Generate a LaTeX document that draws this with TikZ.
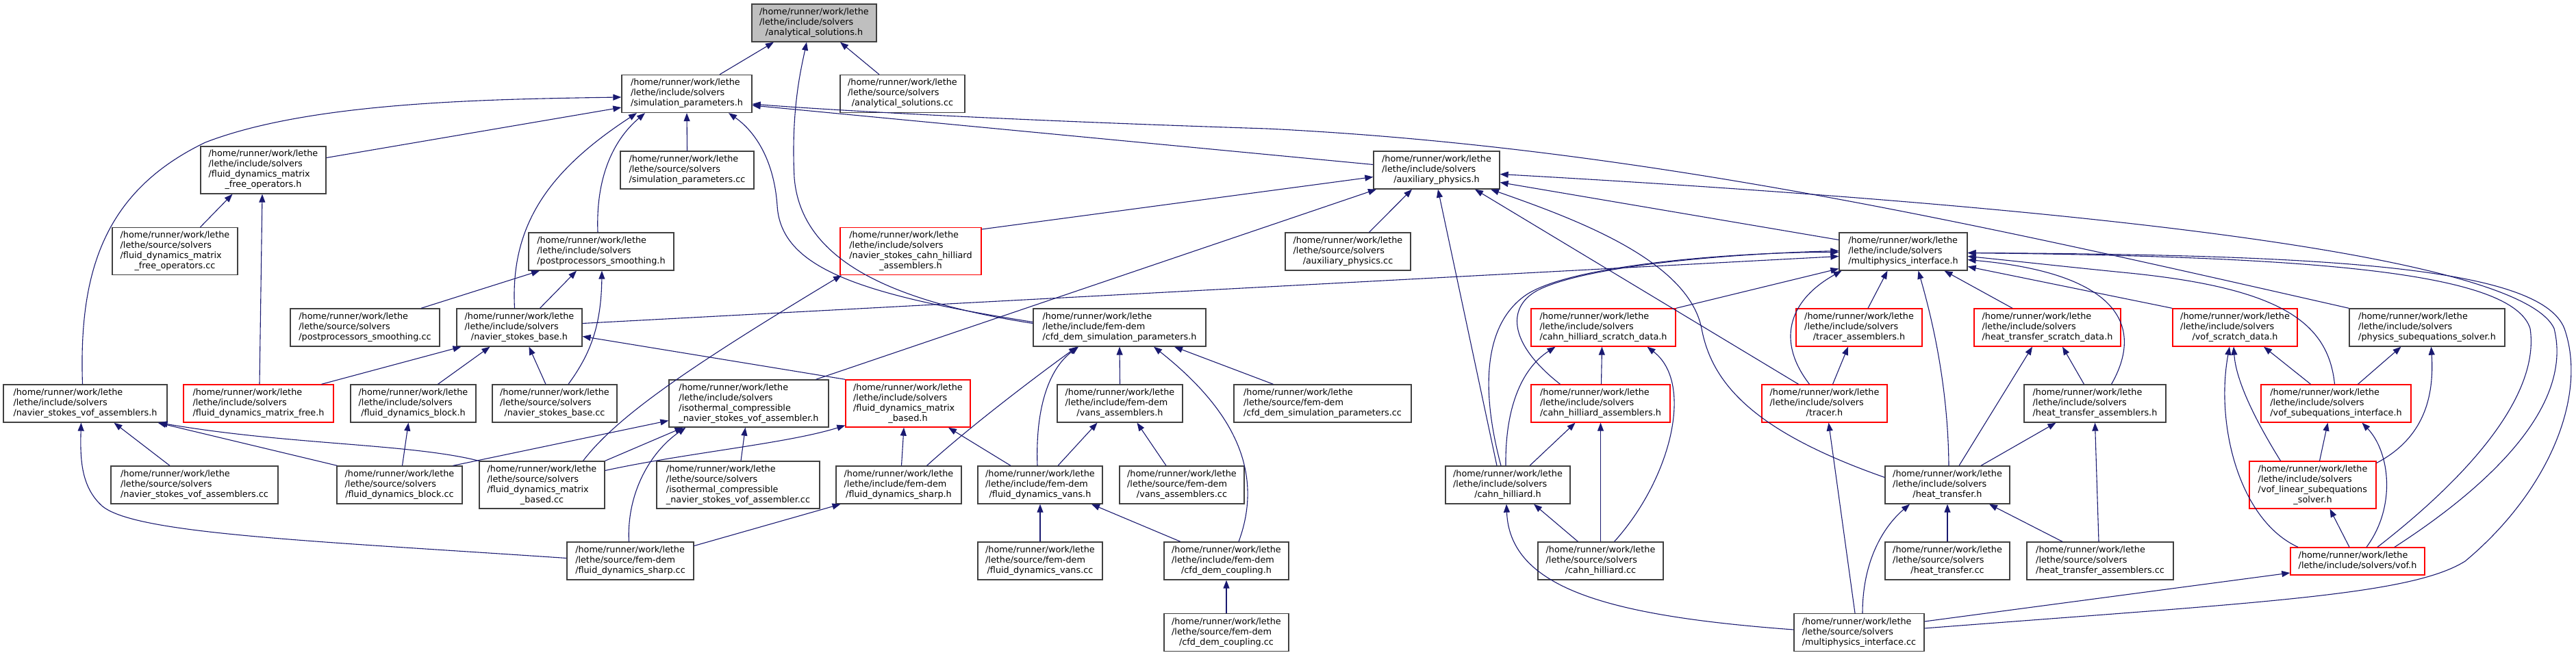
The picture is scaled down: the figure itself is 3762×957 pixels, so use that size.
\documentclass[tikz,border=0pt]{standalone}
\usepackage{fontspec}
\setmainfont{DejaVu Sans}
\usepackage{tikz}
\usetikzlibrary{arrows.meta}
\usepackage{xcolor}
\definecolor{edgeblue}{HTML}{191970}
\definecolor{boxgrey}{HTML}{404040}
\definecolor{rootgrey}{HTML}{BFBFBF}
\definecolor{cutred}{HTML}{FF0000}
\newcommand{\filelab}[2]{\begin{tabular}{@{}l@{}}#1\\\multicolumn{1}{@{}c@{}}{#2}\end{tabular}}

\begin{document}
\begin{tikzpicture}[
  x=1pt, y=-1pt,
  box/.style={rectangle, draw=boxgrey, line width=1.3pt, fill=white, inner sep=0pt,
              minimum height=55pt, font=\fontsize{12.8pt}{15pt}\selectfont},
  tall/.style={minimum height=69pt},
  redbox/.style={box, draw=cutred},
  rootbox/.style={box, fill=rootgrey},
  arr/.style={-{Triangle[length=12pt, width=9pt]}, line width=1.1pt, edgeblue},
]
\useasboundingbox (0,0) rectangle (3762,957);

\node[rootbox, minimum width=182pt] (A) at (1189,33.5)
  {\filelab{/home/runner/work/lethe\\/lethe/include/solvers}{/analytical\_solutions.h}};

\node[box, minimum width=190pt] (SP) at (1003,137)
  {\filelab{/home/runner/work/lethe\\/lethe/include/solvers}{/simulation\_parameters.h}};
\node[box, minimum width=182pt] (ASCC) at (1318,137)
  {\filelab{/home/runner/work/lethe\\/lethe/source/solvers}{/analytical\_solutions.cc}};

\node[box, tall, minimum width=183pt] (FDMFO) at (384.5,248.5)
  {\filelab{/home/runner/work/lethe\\/lethe/include/solvers\\/fluid\_dynamics\_matrix}{\_free\_operators.h}};
\node[box, minimum width=195pt] (SPCC) at (1003.5,248.5)
  {\filelab{/home/runner/work/lethe\\/lethe/source/solvers}{/simulation\_parameters.cc}};
\node[box, minimum width=184pt] (AUX) at (2098,248.5)
  {\filelab{/home/runner/work/lethe\\/lethe/include/solvers}{/auxiliary\_physics.h}};

\node[box, tall, minimum width=183pt] (FDMFOCC) at (255.5,367)
  {\filelab{/home/runner/work/lethe\\/lethe/source/solvers\\/fluid\_dynamics\_matrix}{\_free\_operators.cc}};
\node[box, minimum width=212pt] (PPS) at (878,367.5)
  {\filelab{/home/runner/work/lethe\\/lethe/include/solvers}{/postprocessors\_smoothing.h}};
\node[redbox, tall, minimum width=206pt] (NSCHA) at (1330,367)
  {\filelab{/home/runner/work/lethe\\/lethe/include/solvers\\/navier\_stokes\_cahn\_hilliard}{\_assemblers.h}};
\node[box, minimum width=183pt] (AUXCC) at (1968.5,367.5)
  {\filelab{/home/runner/work/lethe\\/lethe/source/solvers}{/auxiliary\_physics.cc}};
\node[box, minimum width=187pt] (MPI) at (2779.5,367.5)
  {\filelab{/home/runner/work/lethe\\/lethe/include/solvers}{/multiphysics\_interface.h}};

\node[box, minimum width=218pt] (PPSCC) at (533,478.5)
  {\filelab{/home/runner/work/lethe\\/lethe/source/solvers}{/postprocessors\_smoothing.cc}};
\node[box, minimum width=183pt] (NSB) at (758.5,478.5)
  {\filelab{/home/runner/work/lethe\\/lethe/include/solvers}{/navier\_stokes\_base.h}};
\node[box, minimum width=252pt] (CFDSP) at (1635,478.5)
  {\filelab{/home/runner/work/lethe\\/lethe/include/fem-dem}{/cfd\_dem\_simulation\_parameters.h}};
\node[redbox, minimum width=211pt] (CHSD) at (2341.5,478.5)
  {\filelab{/home/runner/work/lethe\\/lethe/include/solvers}{/cahn\_hilliard\_scratch\_data.h}};
\node[redbox, minimum width=184pt] (TRA) at (2715,478.5)
  {\filelab{/home/runner/work/lethe\\/lethe/include/solvers}{/tracer\_assemblers.h}};
\node[redbox, minimum width=214pt] (HTSD) at (2990,478.5)
  {\filelab{/home/runner/work/lethe\\/lethe/include/solvers}{/heat\_transfer\_scratch\_data.h}};
\node[redbox, minimum width=182pt] (VOFSD) at (3264,478.5)
  {\filelab{/home/runner/work/lethe\\/lethe/include/solvers}{/vof\_scratch\_data.h}};
\node[box, minimum width=227pt] (PSS) at (3544.5,478.5)
  {\filelab{/home/runner/work/lethe\\/lethe/include/solvers}{/physics\_subequations\_solver.h}};

\node[box, minimum width=239pt] (NSVOF) at (124.5,589.5)
  {\filelab{/home/runner/work/lethe\\/lethe/include/solvers}{/navier\_stokes\_vof\_assemblers.h}};
\node[redbox, minimum width=219pt] (FDMF) at (377.5,589.5)
  {\filelab{/home/runner/work/lethe\\/lethe/include/solvers}{/fluid\_dynamics\_matrix\_free.h}};
\node[box, minimum width=183pt] (FDB) at (603.5,589.5)
  {\filelab{/home/runner/work/lethe\\/lethe/include/solvers}{/fluid\_dynamics\_block.h}};
\node[box, minimum width=182pt] (NSBCC) at (810,589.5)
  {\filelab{/home/runner/work/lethe\\/lethe/source/solvers}{/navier\_stokes\_base.cc}};
\node[box, tall, minimum width=233pt] (ICNS) at (1093.5,589.5)
  {\filelab{/home/runner/work/lethe\\/lethe/include/solvers\\/isothermal\_compressible}{\_navier\_stokes\_vof\_assembler.h}};
\node[redbox, tall, minimum width=182pt] (FDMB) at (1326,589.5)
  {\filelab{/home/runner/work/lethe\\/lethe/include/solvers\\/fluid\_dynamics\_matrix}{\_based.h}};
\node[box, minimum width=183pt] (VANSA) at (1635.5,589.5)
  {\filelab{/home/runner/work/lethe\\/lethe/include/fem-dem}{/vans\_assemblers.h}};
\node[box, minimum width=259pt] (CFDSPCC) at (1931.5,589.5)
  {\filelab{/home/runner/work/lethe\\/lethe/source/fem-dem}{/cfd\_dem\_simulation\_parameters.cc}};
\node[redbox, minimum width=203pt] (CHA) at (2337.5,589.5)
  {\filelab{/home/runner/work/lethe\\/lethe/include/solvers}{/cahn\_hilliard\_assemblers.h}};
\node[redbox, minimum width=183pt] (TR) at (2664.5,589.5)
  {\filelab{/home/runner/work/lethe\\/lethe/include/solvers}{/tracer.h}};
\node[box, minimum width=207pt] (HTA) at (3059.5,589.5)
  {\filelab{/home/runner/work/lethe\\/lethe/include/solvers}{/heat\_transfer\_assemblers.h}};
\node[redbox, minimum width=219pt] (VOFSI) at (3411.5,589.5)
  {\filelab{/home/runner/work/lethe\\/lethe/include/solvers}{/vof\_subequations\_interface.h}};

\node[box, minimum width=244pt] (NSVOFCC) at (284,708.5)
  {\filelab{/home/runner/work/lethe\\/lethe/source/solvers}{/navier\_stokes\_vof\_assemblers.cc}};
\node[box, minimum width=183pt] (FDBCC) at (583.5,708.5)
  {\filelab{/home/runner/work/lethe\\/lethe/source/solvers}{/fluid\_dynamics\_block.cc}};
\node[box, tall, minimum width=183pt] (FDMBCC) at (791.5,708.5)
  {\filelab{/home/runner/work/lethe\\/lethe/source/solvers\\/fluid\_dynamics\_matrix}{\_based.cc}};
\node[box, tall, minimum width=238pt] (ICNSCC) at (1078,708.5)
  {\filelab{/home/runner/work/lethe\\/lethe/source/solvers\\/isothermal\_compressible}{\_navier\_stokes\_vof\_assembler.cc}};
\node[box, minimum width=183pt] (FDS) at (1312.5,708.5)
  {\filelab{/home/runner/work/lethe\\/lethe/include/fem-dem}{/fluid\_dynamics\_sharp.h}};
\node[box, minimum width=182pt] (FDV) at (1519,708.5)
  {\filelab{/home/runner/work/lethe\\/lethe/include/fem-dem}{/fluid\_dynamics\_vans.h}};
\node[box, minimum width=182pt] (VANSACC) at (1726,708.5)
  {\filelab{/home/runner/work/lethe\\/lethe/source/fem-dem}{/vans\_assemblers.cc}};
\node[box, minimum width=182pt] (CH) at (2202,708.5)
  {\filelab{/home/runner/work/lethe\\/lethe/include/solvers}{/cahn\_hilliard.h}};
\node[box, minimum width=182pt] (HT) at (2844,708.5)
  {\filelab{/home/runner/work/lethe\\/lethe/include/solvers}{/heat\_transfer.h}};
\node[redbox, tall, minimum width=185pt] (VOFLSS) at (3377.5,708.5)
  {\filelab{/home/runner/work/lethe\\/lethe/include/solvers\\/vof\_linear\_subequations}{\_solver.h}};

\node[box, minimum width=185pt] (FDSCC) at (920.5,819.5)
  {\filelab{/home/runner/work/lethe\\/lethe/source/fem-dem}{/fluid\_dynamics\_sharp.cc}};
\node[box, minimum width=182pt] (FDVCC) at (1519,819.5)
  {\filelab{/home/runner/work/lethe\\/lethe/source/fem-dem}{/fluid\_dynamics\_vans.cc}};
\node[box, minimum width=182pt] (CFDC) at (1791,819.5)
  {\filelab{/home/runner/work/lethe\\/lethe/include/fem-dem}{/cfd\_dem\_coupling.h}};
\node[box, minimum width=183pt] (CHCC) at (2337.5,819.5)
  {\filelab{/home/runner/work/lethe\\/lethe/source/solvers}{/cahn\_hilliard.cc}};
\node[box, minimum width=182pt] (HTCC) at (2844,819.5)
  {\filelab{/home/runner/work/lethe\\/lethe/source/solvers}{/heat\_transfer.cc}};
\node[box, minimum width=214pt] (HTACC) at (3067,819.5)
  {\filelab{/home/runner/work/lethe\\/lethe/source/solvers}{/heat\_transfer\_assemblers.cc}};
\node[redbox, minimum width=196pt, minimum height=40pt] (VOF) at (3443,820)
  {\filelab{/home/runner/work/lethe}{/lethe/include/solvers/vof.h}};

\node[box, minimum width=182pt] (CFDCCC) at (1791,924)
  {\filelab{/home/runner/work/lethe\\/lethe/source/fem-dem}{/cfd\_dem\_coupling.cc}};
\node[box, minimum width=190pt] (MPICC) at (2715,924)
  {\filelab{/home/runner/work/lethe\\/lethe/source/solvers}{/multiphysics\_interface.cc}};

\draw[arr] ([xshift=48pt]SP.north) -- ([xshift=-59pt]A.south);
\draw[arr] ([xshift=-34pt]ASCC.north) -- ([xshift=38pt]A.south);
\draw[arr] ([yshift=6pt]CFDSP.west) .. controls (1300,440) and (1170,380) .. (1160,260)
  .. controls (1155,160) and (1170,100) .. ([xshift=-11pt]A.south);
\draw[arr] ([yshift=8pt]CFDSP.west) .. controls (1250,430) and (1140,390) .. (1135,300)
  .. controls (1130,230) and (1100,190) .. ([xshift=61pt]SP.south);
\draw[arr] (SPCC.north) -- (SP.south);
\draw[arr] ([yshift=18pt]FDMFO.east) -- ([yshift=-20pt]SP.west);
\draw[arr] ([xshift=-4pt]NSVOF.north) .. controls (115,400) and (150,280) .. (300,208)
  .. controls (450,150) and (700,145) .. ([yshift=-5pt]SP.west);
\draw[arr] ([xshift=-5pt]PPS.north) .. controls (870,260) and (895,205) .. ([xshift=-61pt]SP.south);
\draw[arr] ([xshift=-7pt]NSB.north) .. controls (745,330) and (800,250) .. ([xshift=-73pt]SP.south);
\draw[arr] ([yshift=8pt]AUX.west) -- ([yshift=-17pt]SP.east);
\draw[arr] (PSS.north west) .. controls (2900,330) and (2400,215) .. (1850,188)
  .. controls (1450,175) and (1200,160) .. ([yshift=-15pt]SP.east);

\draw[arr] ([xshift=37pt]FDMFOCC.north) -- ([xshift=-45pt]FDMFO.south);
\draw[arr] ([xshift=1.5pt]FDMF.north) -- ([xshift=-1.5pt]FDMFO.south);
\draw[arr] ([xshift=82pt]PPSCC.north) -- ([xshift=-90pt]PPS.south);
\draw[arr] ([xshift=30pt]NSB.north) -- ([xshift=-36pt]PPS.south);
\draw[arr] ([xshift=20pt]NSBCC.north) .. controls (860,520) and (878,480) .. ([xshift=1pt]PPS.south);
\draw[arr] ([xshift=92pt]FDMF.north) -- ([xshift=-85pt]NSB.south);
\draw[arr] ([xshift=36pt]FDB.north) -- ([xshift=-43pt]NSB.south);
\draw[arr] ([xshift=-13pt]NSBCC.north) -- ([xshift=14pt]NSB.south);
\draw[arr] (FDMB.north west) -- ([yshift=-13pt]NSB.east);
\draw[arr] ([yshift=6pt]NSB.east) -- ([yshift=-7pt]MPI.west);

\draw[arr] ([xshift=-36pt]NSVOFCC.north) -- ([xshift=42pt]NSVOF.south);
\draw[arr] ([xshift=-91pt]FDBCC.north) -- ([xshift=106pt]NSVOF.south);
\draw[arr] (FDMBCC.north west) .. controls (600,648) and (420,650) .. ([xshift=108pt]NSVOF.south);
\draw[arr] ([yshift=4pt]FDSCC.west) .. controls (450,790) and (200,780) .. (150,740)
  .. controls (118,712) and (117,670) .. ([xshift=-6pt]NSVOF.south);
\draw[arr] ([xshift=4pt]FDBCC.north) -- ([xshift=-7pt]FDB.south);
\draw[arr] ([xshift=78pt]FDBCC.north) -- ([yshift=-25pt]ICNS.west);
\draw[arr] (FDMBCC.north east) -- ([xshift=-96pt]ICNS.south);
\draw[arr] ([xshift=-2pt]FDSCC.north) .. controls (915,720) and (950,660) .. ([xshift=-92pt]ICNS.south);
\draw[arr] ([xshift=4pt]ICNSCC.north) -- ([xshift=-5pt]ICNS.south);
\draw[arr] ([xshift=98pt]ICNS.north) -- ([xshift=-88pt]AUX.south);
\draw[arr] ([yshift=21pt]FDMBCC.east) .. controls (1000,662) and (1150,648) .. ([yshift=-32pt]FDMB.west);
\draw[arr] ([xshift=60pt]FDMBCC.north) .. controls (900,610) and (1000,540) .. ([xshift=-101pt]NSCHA.south);
\draw[arr] ([yshift=32pt]NSCHA.east) -- ([yshift=-10pt]AUX.west);

\draw[arr] ([xshift=4pt]FDS.north) -- ([xshift=-6pt]FDMB.south);
\draw[arr] ([xshift=-43pt]FDV.north) -- ([xshift=59pt]FDMB.south);
\draw[arr] ([xshift=41pt]FDS.north) .. controls (1420,620) and (1520,545) .. ([xshift=-62pt]CFDSP.south);
\draw[arr] ([xshift=-4pt]FDV.north) .. controls (1512,600) and (1530,540) .. ([xshift=-60pt]CFDSP.south);
\draw[arr] (VANSA.north) -- (CFDSP.south);
\draw[arr] ([xshift=18pt]CFDC.north) .. controls (1850,680) and (1790,590) .. ([xshift=50pt]CFDSP.south);
\draw[arr] ([xshift=-72pt]CFDSPCC.north) -- ([xshift=80pt]CFDSP.south);
\draw[arr] ([xshift=26pt]FDV.north) -- ([xshift=-33pt]VANSA.south);
\draw[arr] ([xshift=-23pt]VANSACC.north) -- ([xshift=25pt]VANSA.south);
\draw[arr] (FDVCC.north) -- (FDV.south);
\draw[arr] ([xshift=-67pt]CFDC.north) -- ([xshift=75pt]FDV.south);
\draw[arr] ([yshift=22pt]FDSCC.east) -- ([xshift=-85pt]FDS.south);
\draw[arr] (CFDCCC.north) -- (CFDC.south);

\draw[arr] ([xshift=31pt]AUXCC.north) -- ([xshift=-36pt]AUX.south);
\draw[arr] ([xshift=-16pt]CH.north) -- ([xshift=2pt]AUX.south);
\draw[arr] ([xshift=-38pt]TR.north) -- ([xshift=56pt]AUX.south);
\draw[arr] ([yshift=11pt]HT.west) .. controls (2560,630) and (2500,560) .. (2485,480)
  .. controls (2465,380) and (2300,320) .. ([xshift=79pt]AUX.south);
\draw[arr] ([yshift=17pt]MPI.west) -- ([yshift=-18pt]AUX.east);
\draw[arr] ([xshift=54pt]VOF.north) .. controls (3620,720) and (3760,600) .. (3730,480)
  .. controls (3680,370) and (3000,300) .. ([yshift=-6pt]AUX.east);

\draw[arr] ([xshift=-10pt]CH.north) .. controls (2160,560) and (2170,470) .. (2230,430)
  .. controls (2300,385) and (2550,368) .. ([yshift=-1pt]MPI.west);
\draw[arr] ([xshift=-59pt]CHA.north) .. controls (2200,500) and (2200,445) .. (2250,422)
  .. controls (2330,385) and (2550,370) .. ([yshift=1pt]MPI.west);
\draw[arr] (CHSD.north east) -- ([yshift=-25pt]MPI.west);
\draw[arr] ([xshift=-22pt]TR.north) .. controls (2595,500) and (2610,440) .. ([xshift=-90pt]MPI.south);
\draw[arr] ([xshift=13pt]TRA.north) -- ([xshift=-23pt]MPI.south);
\draw[arr] ([xshift=2pt]HT.north) .. controls (2845,560) and (2820,460) .. ([xshift=22pt]MPI.south);
\draw[arr] ([xshift=-51pt]HTSD.north) -- ([xshift=60pt]MPI.south);
\draw[arr] ([xshift=24pt]HTA.north) .. controls (3130,480) and (3100,400) .. ([yshift=-12pt]MPI.east);
\draw[arr] (VOFSD.north west) -- ([yshift=-22pt]MPI.east);
\draw[arr] ([xshift=-2pt]VOFSI.north) .. controls (3400,470) and (3330,420) .. (3100,398)
  .. controls (3000,388) and (2930,380) .. ([yshift=-7pt]MPI.east);
\draw[arr] ([xshift=29pt]VOF.north) .. controls (3600,700) and (3710,580) .. (3695,480)
  .. controls (3670,400) and (3400,375) .. ([yshift=-2pt]MPI.east);
\draw[arr] ([yshift=6pt]MPICC.east) .. controls (3300,880) and (3520,870) .. (3600,820)
  .. controls (3720,720) and (3780,580) .. (3745,480)
  .. controls (3710,390) and (3400,372) .. ([yshift=-2pt]MPI.east);

\draw[arr] ([xshift=-3pt]CH.north) .. controls (2198,600) and (2220,540) .. ([xshift=-70pt]CHSD.south);
\draw[arr] ([xshift=1pt]CHA.north) -- ([xshift=-2pt]CHSD.south);
\draw[arr] ([xshift=20pt]CHCC.north) .. controls (2440,700) and (2475,560) .. ([xshift=64pt]CHSD.south);
\draw[arr] ([xshift=32pt]CH.north) -- ([xshift=-37pt]CHA.south);
\draw[arr] (CHCC.north) -- (CHA.south);
\draw[arr] ([xshift=-33pt]CHCC.north) -- ([xshift=38pt]CH.south);
\draw[arr] ([yshift=4pt]MPICC.west) .. controls (2350,900) and (2205,860) .. ([xshift=-2pt]CH.south);
\draw[arr] ([xshift=-6pt]MPICC.north) -- ([xshift=6pt]TR.south);
\draw[arr] ([xshift=12pt]TR.north) -- ([xshift=-16pt]TRA.south);

\draw[arr] ([xshift=17pt]HT.north) -- ([xshift=-22pt]HTSD.south);
\draw[arr] ([xshift=-16pt]HTA.north) -- ([xshift=22pt]HTSD.south);
\draw[arr] ([xshift=49pt]HT.north) -- ([xshift=-57pt]HTA.south);
\draw[arr] ([xshift=-2pt]HTACC.north) -- (HTA.south);
\draw[arr] (HTCC.north) -- (HT.south);
\draw[arr] ([xshift=-55pt]HTACC.north) -- ([xshift=61pt]HT.south);
\draw[arr] ([xshift=5pt]MPICC.north) .. controls (2720,820) and (2750,770) .. ([xshift=-55pt]HT.south);

\draw[arr] ([xshift=-87pt]VOF.north) .. controls (3270,760) and (3235,620) .. ([xshift=-8pt]VOFSD.south);
\draw[arr] ([xshift=-47pt]VOFLSS.north) .. controls (3285,600) and (3265,550) .. ([xshift=-2pt]VOFSD.south);
\draw[arr] ([xshift=-37pt]VOFSI.north) -- ([xshift=42pt]VOFSD.south);
\draw[arr] ([xshift=10pt]VOFLSS.north) -- ([xshift=-12pt]VOFSI.south);
\draw[arr] ([xshift=13pt]VOF.north) .. controls (3500,740) and (3490,660) .. ([xshift=38pt]VOFSI.south);
\draw[arr] ([xshift=32pt]VOFSI.north) -- ([xshift=-38pt]PSS.south);
\draw[arr] ([yshift=32pt]VOFLSS.east) .. controls (3540,640) and (3555,580) .. ([xshift=6pt]PSS.south);
\draw[arr] ([xshift=-12pt]VOF.north) -- ([xshift=25pt]VOFLSS.south);
\draw[arr] ([yshift=16pt]MPICC.east) -- ([yshift=-17pt]VOF.west);

\end{tikzpicture}
\end{document}
